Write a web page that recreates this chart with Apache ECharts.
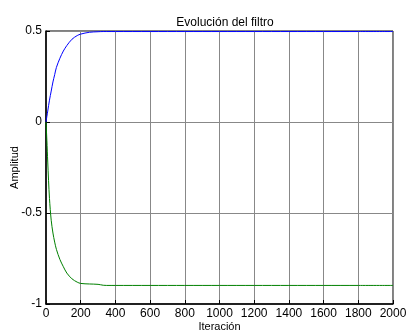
<!DOCTYPE html>
<html>
<head>
<meta charset="utf-8">
<script src="https://cdn.jsdelivr.net/npm/echarts@6/dist/echarts.min.js"></script>
<style>html,body{margin:0;padding:0;background:#fff}#c{width:408px;height:336px}</style>
</head>
<body>
<div id="c"></div>
<script>
const titleText = "Evolución del filtro";
const xName = "Iteración";
const yName = "Amplitud";
const iterations = [0,5,10,20,30,40,50,60,80,100,120,150,180,200,250,300,330,350,400,600,800,1000,1200,1400,1600,1800,2000];
const blueValues = [0,0.03,0.06,0.12,0.17,0.22,0.26,0.30,0.35,0.39,0.42,0.455,0.475,0.483,0.493,0.496,0.497,0.497,0.497,0.497,0.497,0.497,0.497,0.497,0.497,0.497,0.497];
const greenValues = [0,-0.10,-0.22,-0.42,-0.54,-0.61,-0.66,-0.70,-0.755,-0.795,-0.83,-0.862,-0.88,-0.887,-0.89,-0.892,-0.897,-0.898,-0.898,-0.898,-0.898,-0.898,-0.898,-0.898,-0.898,-0.898,-0.898];

const pair = (vals) => iterations.map((x, i) => [x, vals[i]]);
const font = "Liberation Sans, Arial, sans-serif";
const chart = echarts.init(document.getElementById('c'), null, {renderer: 'canvas'});
chart.setOption({
  animation: false,
  backgroundColor: '#fff',
  title: {text: titleText, left: 220, top: 12, textAlign: 'center',
    textStyle: {fontFamily: font, fontSize: 12, fontWeight: 'normal', color: '#000'}},
  grid: {left: 46, top: 31, right: 15, bottom: 32, show: true, borderColor: '#000', borderWidth: 1,
    containLabel: false, outerBoundsMode: 'none'},
  xAxis: {type: 'value', min: 0, max: 2000, interval: 200,
    name: xName, nameLocation: 'middle', nameGap: 17, nameMoveOverlap: false,
    nameTextStyle: {fontFamily: font, fontSize: 11, color: '#000'},
    axisLine: {onZero: false, lineStyle: {color: '#000', width: 1.5}},
    axisTick: {inside: true, length: 4, lineStyle: {color: '#000'}},
    axisLabel: {fontFamily: font, fontSize: 12, color: '#000', margin: 4, formatter: (v) => String(v)},
    splitLine: {show: true, lineStyle: {color: '#888', width: 1}}},
  yAxis: {type: 'value', min: -1, max: 0.5, interval: 0.5,
    name: yName, nameLocation: 'middle', nameGap: 26, nameMoveOverlap: false,
    nameTextStyle: {fontFamily: font, fontSize: 11, color: '#000'},
    axisLine: {onZero: false, lineStyle: {color: '#000', width: 1.5}},
    axisTick: {inside: true, length: 4, lineStyle: {color: '#000'}},
    axisLabel: {fontFamily: font, fontSize: 12, color: '#000', margin: 4, formatter: (v) => String(v)},
    splitLine: {show: true, lineStyle: {color: '#888', width: 1}}},
  series: [
    {type: 'line', data: pair(blueValues), showSymbol: false, smooth: 0.3,
      lineStyle: {color: '#0000ff', width: 1}, itemStyle: {color: '#0000ff'}},
    {type: 'line', data: pair(greenValues), showSymbol: false, smooth: 0.3,
      lineStyle: {color: '#008000', width: 1}, itemStyle: {color: '#008000'}}
  ]
});
</script>
</body>
</html>
